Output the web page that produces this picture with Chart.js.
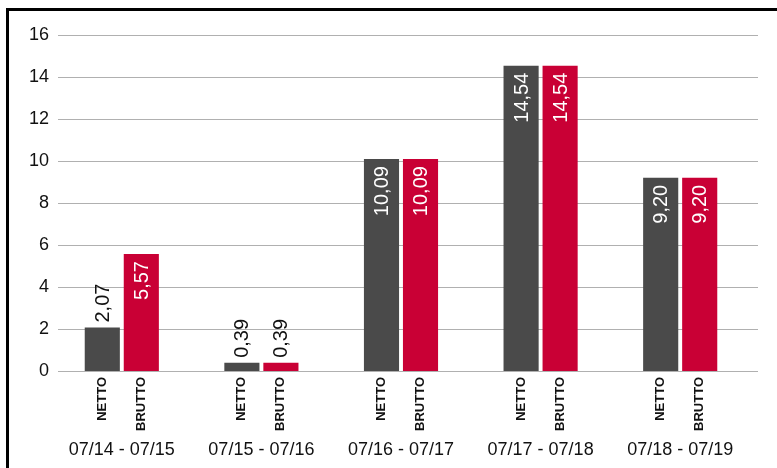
<!DOCTYPE html>
<html>
<head>
<meta charset="utf-8">
<style>
  html, body { margin: 0; padding: 0; background: #ffffff; }
  #wrap { position: relative; width: 777px; height: 468px; overflow: hidden; }
  canvas { display: block; }
</style>
<script src="https://cdn.jsdelivr.net/npm/chart.js@4.4.1/dist/chart.umd.min.js"></script>
</head>
<body>
<div id="wrap"><canvas id="c" width="777" height="468"></canvas></div>
<script>
// ---- data ----
const categories = ['07/14 - 07/15', '07/15 - 07/16', '07/16 - 07/17', '07/17 - 07/18', '07/18 - 07/19'];
const seriesNames = ['NETTO', 'BRUTTO'];
const nettoValues = [2.07, 0.39, 10.09, 14.54, 9.20];
const bruttoValues = [5.57, 0.39, 10.09, 14.54, 9.20];
const yMin = 0;
const yMax = 16;
const yStep = 2;

const FONT = "'Liberation Sans', Arial, Helvetica, sans-serif";
const COLORS = ['#4a4a4a', '#c90035'];

function fmt(v) { return v.toFixed(2).replace('.', ','); }

// frame around the chart (left + top edges visible)
const framePlugin = {
  id: 'frame',
  beforeDraw(chart) {
    const ctx = chart.ctx;
    ctx.save();
    ctx.fillStyle = '#000';
    ctx.fillRect(6, 8, 3, 460);
    ctx.fillRect(6, 8, 771, 3);
    ctx.restore();
  }
};

// horizontal grid lines at the y scale's ticks
const gridPlugin = {
  id: 'hgrid',
  beforeDatasetsDraw(chart) {
    const ctx = chart.ctx;
    const y = chart.scales.y;
    ctx.save();
    ctx.strokeStyle = '#b0b0b0';
    ctx.lineWidth = 1;
    y.ticks.forEach(t => {
      const py = Math.round(y.getPixelForValue(t.value)) + 0.5;
      ctx.beginPath();
      ctx.moveTo(58, py);
      ctx.lineTo(758, py);
      ctx.stroke();
    });
    ctx.restore();
  }
};

// value labels and rotated series labels under each bar
const labelPlugin = {
  id: 'barLabels',
  afterDatasetsDraw(chart) {
    const ctx = chart.ctx;
    const base = chart.scales.y.getPixelForValue(0);
    ctx.save();
    chart.data.datasets.forEach((ds, di) => {
      const meta = chart.getDatasetMeta(di);
      meta.data.forEach((bar, i) => {
        const v = ds.data[i];
        const txt = fmt(v);
        // value label
        ctx.font = '20px ' + FONT;
        const w = ctx.measureText(txt).width;
        const h = base - bar.y;
        ctx.save();
        if (h > w + 12) {
          ctx.translate(bar.x, bar.y + 7);
          ctx.rotate(-Math.PI / 2);
          ctx.textAlign = 'right';
          ctx.textBaseline = 'middle';
          ctx.fillStyle = '#ffffff';
        } else {
          ctx.translate(bar.x, bar.y - 5);
          ctx.rotate(-Math.PI / 2);
          ctx.textAlign = 'left';
          ctx.textBaseline = 'middle';
          ctx.fillStyle = '#111111';
        }
        ctx.fillText(txt, 0, 1);
        ctx.restore();
        // series name under the bar
        ctx.save();
        ctx.font = 'bold 13px ' + FONT;
        ctx.translate(bar.x, base + 6);
        ctx.rotate(-Math.PI / 2);
        ctx.textAlign = 'right';
        ctx.textBaseline = 'middle';
        ctx.fillStyle = '#111111';
        ctx.fillText(ds.label, 0, 0);
        ctx.restore();
      });
    });
    ctx.restore();
  }
};

new Chart(document.getElementById('c'), {
  type: 'bar',
  data: {
    labels: categories,
    datasets: [
      { label: seriesNames[0], data: nettoValues, backgroundColor: COLORS[0] },
      { label: seriesNames[1], data: bruttoValues, backgroundColor: COLORS[1] }
    ]
  },
  options: {
    responsive: false,
    animation: false,
    devicePixelRatio: 1,
    layout: { padding: { left: 0, top: 35, right: 27, bottom: 0 } },
    datasets: {
      bar: { categoryPercentage: 0.559, barPercentage: 0.9, borderWidth: 0 }
    },
    plugins: { legend: { display: false }, tooltip: { enabled: false } },
    scales: {
      x: {
        grid: { display: false },
        border: { display: false },
        ticks: {
          color: '#111111',
          font: { family: FONT, size: 18, lineHeight: 7.9 },
          padding: 0,
          maxRotation: 0,
          autoSkip: false
        },
        afterFit(scale) { scale.height = 97; }
      },
      y: {
        min: yMin,
        max: yMax,
        grid: { display: false },
        border: { display: false },
        ticks: {
          stepSize: yStep,
          color: '#111111',
          font: { family: FONT, size: 18 },
          padding: -5
        },
        afterFit(scale) { scale.width = 52; }
      }
    }
  },
  plugins: [framePlugin, gridPlugin, labelPlugin]
});
</script>
</body>
</html>
